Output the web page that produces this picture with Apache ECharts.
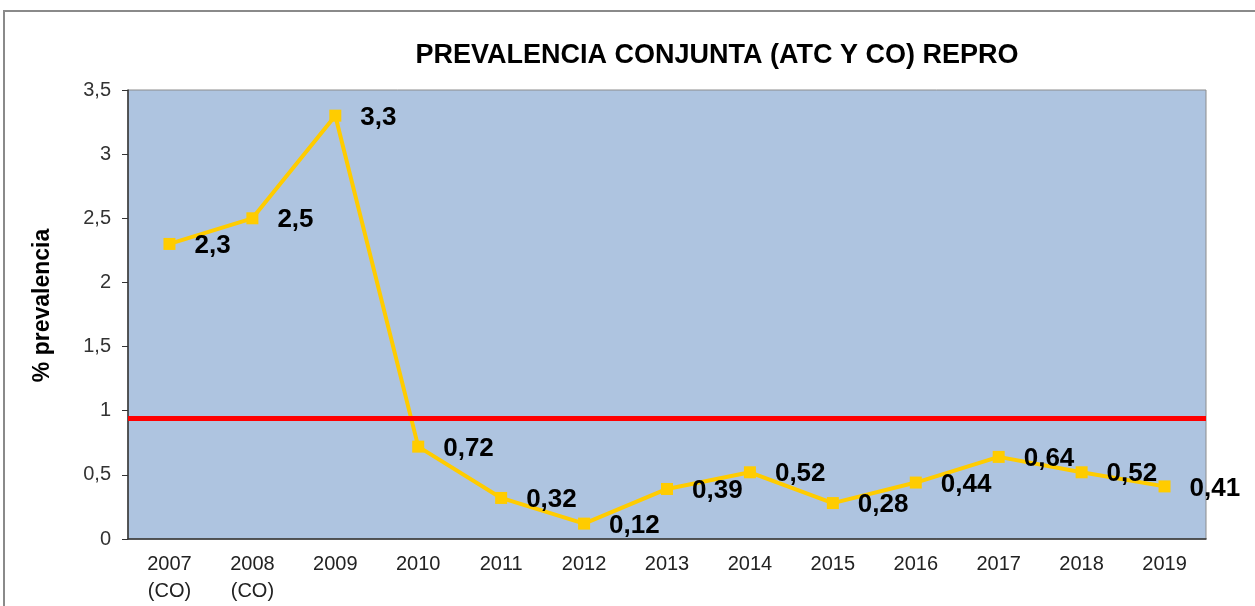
<!DOCTYPE html>
<html lang="es">
  <head>
    <meta charset="UTF-8" />
    <title>Prevalencia conjunta</title>
    <style>
      html, body { margin: 0; padding: 0; background: #fff; }
      #chart { width: 1255px; height: 606px; }
    </style>
  </head>
  <body>
    <div id="chart"></div>

    <script src="https://cdn.jsdelivr.net/npm/echarts@6/dist/echarts.min.js"></script>
    <script>
      // datos
      const years = ['2007\n(CO)', '2008\n(CO)', '2009', '2010', '2011', '2012', '2013',
        '2014', '2015', '2016', '2017', '2018', '2019'];
      const prevalence = [2.3, 2.5, 3.3, 0.72, 0.32, 0.12, 0.39, 0.52, 0.28, 0.44, 0.64, 0.52, 0.41];
      const threshold = 0.935;

      const comma = (v) => String(v).replace('.', ',');
      const font = '"Liberation Sans", Arial, sans-serif';

      const myChart = echarts.init(document.getElementById('chart'));
      const option = {
        animation: false,
        textStyle: { fontFamily: font },
        graphic: [
          {
            type: 'rect',
            shape: { x: 4, y: 11, width: 1400, height: 800 },
            style: { fill: 'none', stroke: '#8a8a8a', lineWidth: 2 },
            silent: true,
          },
        ],
        title: {
          text: 'PREVALENCIA CONJUNTA (ATC Y CO) REPRO',
          left: 712,
          textAlign: 'center',
          top: 37,
          textStyle: { fontFamily: font, fontSize: 27, fontWeight: 'bold', color: '#000' },
        },
        grid: {
          left: 128,
          right: 49,
          top: 90,
          bottom: 67,
          show: true,
          backgroundColor: '#aec4e0',
          borderColor: '#8c8c8c',
          borderWidth: 1,
        },
        xAxis: {
          type: 'category',
          data: years,
          boundaryGap: true,
          axisLine: { lineStyle: { color: '#333', width: 1.5 } },
          axisTick: { inside: true, alignWithLabel: true, length: 4, lineStyle: { color: '#333' } },
          axisLabel: { color: '#222', fontSize: 20, lineHeight: 27, margin: 12, fontFamily: font },
        },
        yAxis: {
          type: 'value',
          min: 0,
          max: 3.5,
          interval: 0.5,
          name: '% prevalencia',
          nameLocation: 'middle',
          nameGap: 74,
          nameTextStyle: {
            fontSize: 23,
            fontWeight: 'bold',
            color: '#000',
            fontFamily: font,
            padding: [0, 0, 0, 18],
          },
          axisLine: { show: true, lineStyle: { color: '#333', width: 1.5 } },
          axisTick: { show: true, length: 6, lineStyle: { color: '#333' } },
          splitLine: { show: false },
          axisLabel: {
            color: '#333',
            fontSize: 20,
            margin: 17,
            fontFamily: font,
            formatter: (v) => comma(v),
          },
        },
        series: [
          {
            type: 'line',
            data: prevalence,
            symbol: 'rect',
            symbolSize: 12,
            color: '#ffcc00',
            lineStyle: { width: 4, color: '#ffcc00' },
            itemStyle: { color: '#ffcc00' },
            label: {
              show: true,
              position: 'right',
              distance: 19,
              offset: [0, 2],
              color: '#000',
              fontSize: 26,
              fontWeight: 'bold',
              fontFamily: font,
              formatter: (p) => comma(p.value),
            },
            markLine: {
              silent: true,
              symbol: 'none',
              label: { show: false },
              lineStyle: { color: '#ff0000', width: 5, type: 'solid' },
              data: [{ yAxis: threshold }],
            },
            z: 3,
          },
        ],
      };

      myChart.setOption(option);
    </script>
  </body>
</html>
